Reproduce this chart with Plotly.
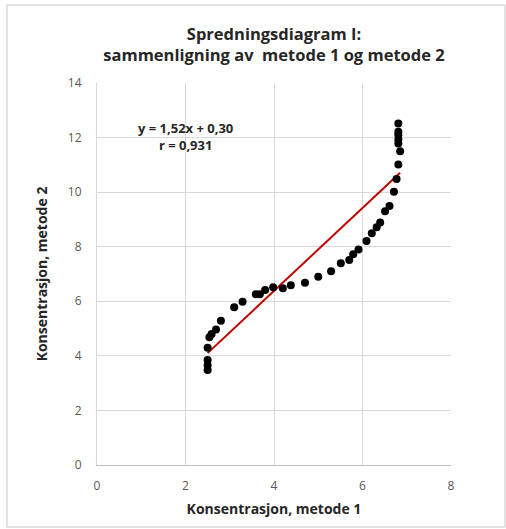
import plotly.graph_objects as go

# Data
metode1 = [2.50, 2.50, 2.50, 2.50, 2.54, 2.59, 2.69, 2.80, 3.10, 3.29, 3.59, 3.68,
           3.80, 3.98, 4.20, 4.38, 4.70, 5.00, 5.29, 5.51, 5.70, 5.79, 5.91, 6.09,
           6.21, 6.32, 6.40, 6.51, 6.61, 6.71, 6.77, 6.81, 6.85, 6.81, 6.81, 6.81,
           6.81, 6.81]
metode2 = [3.48, 3.66, 3.85, 4.30, 4.68, 4.80, 4.97, 5.29, 5.78, 5.98, 6.26, 6.26,
           6.41, 6.51, 6.48, 6.59, 6.68, 6.90, 7.10, 7.39, 7.51, 7.72, 7.90, 8.21,
           8.49, 8.71, 8.89, 9.30, 9.49, 10.01, 10.48, 11.01, 11.50, 11.78, 11.93,
           12.09, 12.21, 12.52]
slope = 1.52
intercept = 0.30
eq_text = "y = 1,52x + 0,30"
r_text = "r = 0,931"
x_ticks = [0, 2, 4, 6, 8]
y_ticks = [0, 2, 4, 6, 8, 10, 12, 14]

FONT = "Open Sans"

line_x = [min(metode1), max(metode1)]
line_y = [slope * v + intercept for v in line_x]

fig = go.Figure()
fig.add_trace(go.Scatter(x=line_x, y=line_y, mode="lines",
                         line=dict(color="#c00000", width=2), showlegend=False,
                         hoverinfo="skip"))
fig.add_trace(go.Scatter(x=metode1, y=metode2, mode="markers",
                         marker=dict(color="black", size=8), showlegend=False))

fig.update_layout(
    width=506, height=529,
    margin=dict(l=97, r=55, t=83, b=64),
    paper_bgcolor="white", plot_bgcolor="white",
    font=dict(family=FONT, color="#595959"),
    title=dict(text="<b>Spredningsdiagram I:<br>sammenligning av  metode 1 og metode 2</b>",
               x=(97 + 451) / 2 / 506, xanchor="center", y=1 - 40 / 529, yanchor="middle",
               font=dict(family=FONT, size=16.5, color="#262626")),
    xaxis=dict(range=[0, 8], tickvals=x_ticks, showgrid=True, gridcolor="#d9d9d9",
               gridwidth=1, zeroline=False, showline=True, linecolor="#bfbfbf",
               ticks="outside", ticklen=10, tickcolor="rgba(0,0,0,0)",
               tickfont=dict(size=12, color="#595959"),
               title=dict(text="<b>Konsentrasjon, metode 1</b>", standoff=10,
                          font=dict(size=14, color="#262626")),
               fixedrange=True),
    yaxis=dict(range=[0, 14], tickvals=y_ticks, showgrid=True, gridcolor="#d9d9d9",
               gridwidth=1, zeroline=False, showline=True, linecolor="#d9d9d9",
               ticks="outside", ticklen=12, tickcolor="rgba(0,0,0,0)",
               tickfont=dict(size=12, color="#595959"),
               title=dict(text="<b>Konsentrasjon, metode 2</b>", standoff=16,
                          font=dict(size=14, color="#262626")),
               fixedrange=True),
    shapes=[dict(type="rect", xref="paper", yref="paper",
                 x0=(7 - 97) / 354, x1=(505 - 97) / 354,
                 y0=(465 - 527) / 382, y1=(465 - 5) / 382,
                 line=dict(color="#d9d9d9", width=1.5), layer="below")],
    annotations=[dict(x=(185 - 97) / 354, y=(465 - 136) / 382, xref="paper", yref="paper",
                      xanchor="center", yanchor="middle",
                      text="<b>" + eq_text + "<br>" + r_text + "</b>", showarrow=False,
                      align="center", font=dict(family=FONT, size=13, color="#262626"))],
)

fig.write_html("out.html")
